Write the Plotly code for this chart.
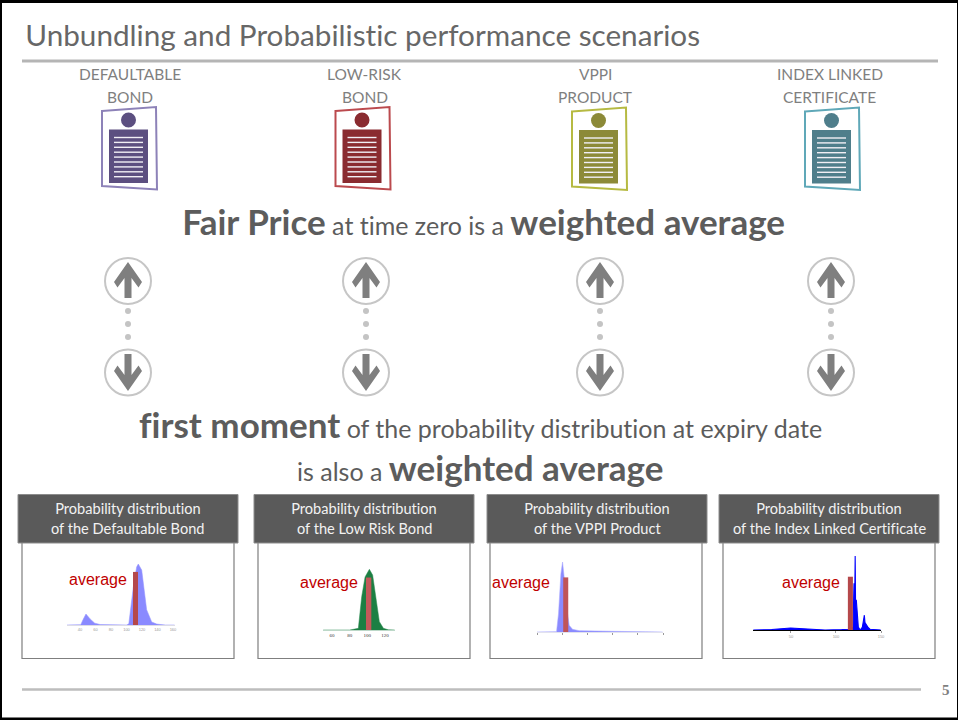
import plotly.graph_objects as go

W, H = 958, 720
TEXT = "#5c5c5c"
FONT = "Lato"

# ---------- data ----------
title = "Unbundling and Probabilistic performance scenarios"
product_lines = [["DEFAULTABLE", "BOND"], ["LOW-RISK", "BOND"], ["VPPI", "PRODUCT"], ["INDEX LINKED", "CERTIFICATE"]]
header_lines = [
    ["Probability distribution", "of the Defaultable Bond"],
    ["Probability distribution", "of the Low Risk Bond"],
    ["Probability distribution", "of the VPPI Product"],
    ["Probability distribution", "of the Index Linked Certificate"],
]
average_label = "average"

defaultable_x = [23, 38, 41, 44, 47.7, 53, 59, 66, 80, 100, 103, 104.5, 108.8, 113.1, 115.2, 119.6, 122.6, 126, 132.5, 139, 150, 162]
defaultable_y = [0, 0, 0.5, 9, 18, 10, 3, 0.7, 0, 0, 2, 20, 62, 95, 100, 90, 57, 25, 5, 1.5, 0, 0]
defaultable_avg, defaultable_avg_h = 111.6, 87

lowrisk_x = [50, 80, 89.8, 93.6, 97.4, 102.3, 106, 109.8, 113.6, 118.2, 123.9, 131]
lowrisk_y = [0, 0, 2.7, 54.6, 87, 99.5, 90, 49, 13.7, 2.7, 0.3, 0]
lowrisk_avg, lowrisk_avg_h = 101.5, 86

vppi_x = [50, 85, 88.8, 92.7, 97.4, 100.7, 104.6, 108.6, 113.9, 120.5, 133.7, 199.9, 299]
vppi_y = [0, 0, 0.5, 26, 83, 100, 74, 36, 9.5, 3.8, 1.9, 1, 0]
vppi_avg, vppi_avg_h = 107, 78

index_x = [8.1, 28.5, 49.6, 69.3, 87.8, 106.3, 113.7, 118.1, 118.9, 120, 120.7, 121.3, 121.7, 122.6, 123.7, 124.8,
           126.3, 127.8, 129.3, 130.4, 131.5, 132.2, 134.1, 135.9, 137.8, 141.5, 149.6]
index_y = [0, 0.7, 2.7, 1, 0, 0.5, 1, 3, 4, 63, 30, 100, 40, 40, 25, 4, 1, 1, 4, 12, 20, 10, 6, 3, 1, 0.5, 0]
index_avg, index_avg_h = 116, 72

defaultable_ticks = [40, 60, 80, 100, 120, 140, 160]
lowrisk_ticks = [60, 80, 100, 120]
vppi_ticks = [50, 100, 150, 200, 250, 300]
index_ticks = [50, 100, 150]

# ---------- slide furniture, in page pixels ----------
shapes, annotations = [], []

def px(x):
    return x / W

def py(y):
    return 1 - y / H

def rect(x0, y0, x1, y1, fill, line=None, lw=0, layer="below"):
    shapes.append(dict(type="rect", xref="paper", yref="paper", x0=px(x0), x1=px(x1), y0=py(y0), y1=py(y1),
                       fillcolor=fill, line=dict(color=line or fill, width=lw), layer=layer))

def hline(x0, x1, y, color, lw):
    shapes.append(dict(type="line", xref="paper", yref="paper", x0=px(x0), x1=px(x1), y0=py(y), y1=py(y),
                       line=dict(color=color, width=lw), layer="below"))

def poly(points, fill, line=None, lw=0):
    d = "M" + " L".join(f"{px(a):.5f},{py(b):.5f}" for a, b in points) + " Z"
    shapes.append(dict(type="path", xref="paper", yref="paper", path=d, fillcolor=fill,
                       line=dict(color=line or fill, width=lw), layer="below"))

def circle(cx, cy, r, fill, line=None, lw=0):
    shapes.append(dict(type="circle", xref="paper", yref="paper", x0=px(cx - r), x1=px(cx + r),
                       y0=py(cy - r), y1=py(cy + r), fillcolor=fill,
                       line=dict(color=line or fill, width=lw), layer="below"))

def text(x, y, s, size, color=TEXT, family=FONT, anchor="center"):
    annotations.append(dict(x=px(x), y=py(y), xref="paper", yref="paper", text=s, showarrow=False,
                            xanchor=anchor, yanchor="middle", align="center",
                            font=dict(family=family, size=size, color=color)))

# frame
rect(0, 0, W, 3, "#000000")
rect(0, 717.5, W, H, "#000000")
rect(0, 0, 2, H, "#000000")
rect(957, 0, W, H, "#000000")

# title
text(22.5, 34.5, title, 29.7, color="#676767", anchor="left")
hline(22, 938, 61, "#b5b5b5", 3)
hline(22, 921, 689.5, "#bdbdbd", 2.5)
text(946, 690, "<b>5</b>", 15, color="#7f7f7f", family="Liberation Serif")

# product labels and document icons
label_centres = [130, 364.5, 595, 829.5]
icon_dx = [0, 233.5, 470, 703]
icon_dy = [0, 0, 0.5, 0.5]
icon_dark = ["#5c4f80", "#8a2b30", "#8c8a38", "#4f7e8b"]
icon_edge = ["#8d82b8", "#bb4a4e", "#b6ba42", "#5fa8b8"]
for cx, lines in zip(label_centres, product_lines):
    text(cx, 74, lines[0], 15.5, color="#7f7f7f")
    text(cx, 97, lines[1], 15.5, color="#7f7f7f")
for dx, dy, dark, edge in zip(icon_dx, icon_dy, icon_dark, icon_edge):
    poly([(102 + dx, 111 + dy), (156 + dx, 107 + dy), (157 + dx, 189.5 + dy), (102 + dx, 186 + dy)], "#ffffff", edge, 2)
    circle(128.5 + dx, 120 + dy, 7.5, dark)
    rect(109 + dx, 129.5 + dy, 148 + dx, 183 + dy, dark)
    for k in range(9):
        y = 137.5 + 4.9 * k + dy
        hline(114 + dx, 143 + dx, y, "#f1eff5", 1.4)

# arrows
arrow_x = [128, 366, 600, 831]
for cx in arrow_x:
    circle(cx, 281, 23, "#ffffff", "#c6c6c6", 2)
    circle(cx, 372.5, 23, "#ffffff", "#c6c6c6", 2)
    poly([(cx, 262), (cx + 14, 282), (cx + 10.5, 287.5), (cx + 3.5, 278), (cx + 3.5, 298), (cx - 3.5, 298),
          (cx - 3.5, 278), (cx - 10.5, 287.5), (cx - 14, 282)], "#7f7f7f")
    poly([(cx, 391), (cx + 14, 371), (cx + 10.5, 365.5), (cx + 3.5, 375), (cx + 3.5, 354), (cx - 3.5, 354),
          (cx - 3.5, 375), (cx - 10.5, 365.5), (cx - 14, 371)], "#7f7f7f")
    for y in (311, 324, 337):
        circle(cx, y, 3, "#c4c4c4")

def big(s):
    return f'<b><span style="font-size:35px">{s}</span></b>'

text(483.5, 220.5, big("Fair Price") + " at time zero is a " + big("weighted average"), 25)
text(480, 423.5, big("first moment") + " of the probability distribution at expiry date", 25)
text(479.5, 467, "is also a " + big("weighted average"), 25)

# panel frames and headers
box_left = [22, 258, 490, 723]
head_left = [18, 254, 487, 719]
head_centre = [128, 364, 597, 829]
for bx, hx, hc, lines in zip(box_left, head_left, head_centre, header_lines):
    rect(bx, 520, bx + 212, 658.5, "#ffffff", "#7f7f7f", 1.2)
    rect(hx, 494.5, hx + 220, 543, "#5a5a5a", "#8c8c8c", 1)
    text(hc, 508.5, lines[0], 14.6, color="#f2f2f2")
    text(hc, 528.5, lines[1], 14.6, color="#f2f2f2")

# ---------- distribution panels, through real axes ----------
panels = [
    dict(x=defaultable_x, y=defaultable_y, avg=defaultable_avg, h=defaultable_avg_h, w=6.5, xr=[23.2, 162.6],
         px0=67, px1=175, base=625, top=564, fill="#8a8aff", edge="rgba(150,150,255,0.55)", lw=1,
         bar="#b5484b", ticks=defaultable_ticks, axis="#dcdce6", tfont=dict(size=4, color="#9a9a9a", family="Liberation Sans"),
         labels=True, tlen=0, label_x=98, label_y=579),
    dict(x=lowrisk_x, y=lowrisk_y, avg=lowrisk_avg, h=lowrisk_avg_h, w=6, xr=[49.8, 131.3],
         px0=323, px1=395, base=630, top=569, fill="#1c7f43", edge="#2b8a50", lw=0.5,
         bar="#c4585a", ticks=lowrisk_ticks, axis="#bcd8c8", tfont=dict(size=5, color="#333333", family="Liberation Serif"),
         labels=True, tlen=0, label_x=328.5, label_y=582),
    dict(x=vppi_x, y=vppi_y, avg=vppi_avg, h=vppi_avg_h, w=10, xr=[50, 300],
         px0=537, px1=663, base=632, top=562, fill="#8a8aff", edge="rgba(170,170,255,0.55)", lw=1,
         bar="#c05458", ticks=vppi_ticks, axis="#e2e2ee", tfont=dict(size=3, color="#999999", family="Liberation Sans"),
         labels=False, tlen=2, label_x=521, label_y=582),
    dict(x=index_x, y=index_y, avg=index_avg, h=index_avg_h, w=5.6, xr=[7.8, 150],
         px0=753, px1=881, base=630, top=556, fill="#0000ff", edge="#0000ff", lw=1.1,
         bar="#b5484b", ticks=index_ticks, axis="#000000", tfont=dict(size=4, color="#999999", family="Liberation Sans"),
         labels=True, tlen=2, label_x=811, label_y=582),
]

fig = go.Figure()
layout_axes = {}
for i, p in enumerate(panels):
    nx, ny = i + 1, i + 1
    ox, oy = i + 5, i + 5
    height = p["base"] - p["top"]
    dom_top = p["top"] - 10
    ymax = 100 * (p["base"] - dom_top) / height
    xdom = [px(p["px0"]), px(p["px1"])]
    ydom = [py(p["base"]), py(dom_top)]
    fig.add_trace(go.Scatter(x=p["x"], y=p["y"], xaxis=f"x{nx}", yaxis=f"y{ny}", mode="lines", fill="tozeroy",
                             fillcolor=p["fill"], line=dict(color=p["edge"], width=p["lw"]), showlegend=False,
                             hoverinfo="skip"))
    fig.add_trace(go.Bar(x=[p["avg"]], y=[p["h"]], width=[p["w"]], xaxis=f"x{ox}", yaxis=f"y{oy}",
                         marker=dict(color=p["bar"], line=dict(width=0)), showlegend=False, hoverinfo="skip"))
    layout_axes[f"xaxis{nx}"] = dict(domain=xdom, range=p["xr"], anchor=f"y{ny}", showgrid=False, zeroline=False,
                                     showline=True, linecolor=p["axis"], linewidth=1.2, tickmode="array",
                                     tickvals=p["ticks"], ticktext=[str(t) for t in p["ticks"]],
                                     showticklabels=p["labels"], tickfont=p["tfont"], ticks="outside" if p["tlen"] else "",
                                     ticklen=p["tlen"], tickcolor="#999999", tickwidth=1, automargin=False)
    layout_axes[f"yaxis{ny}"] = dict(domain=ydom, range=[0, ymax], anchor=f"x{nx}", visible=False)
    layout_axes[f"xaxis{ox}"] = dict(domain=xdom, range=p["xr"], anchor=f"y{oy}", visible=False, overlaying=f"x{nx}")
    layout_axes[f"yaxis{oy}"] = dict(domain=ydom, range=[0, ymax], anchor=f"x{ox}", visible=False, overlaying=f"y{ny}")
    text(p["label_x"], p["label_y"], average_label, 16, color="#c00000", family="Liberation Sans", anchor="center")

fig.update_layout(width=W, height=H, margin=dict(l=0, r=0, t=0, b=0, pad=0, autoexpand=False), paper_bgcolor="#ffffff",
                  plot_bgcolor="rgba(0,0,0,0)", showlegend=False, shapes=shapes, annotations=annotations, **layout_axes)
fig.write_html("out.html", config=dict(displayModeBar=False),
               post_script="document.body.style.margin='0';document.body.style.overflow='hidden';"
                           "var s=document.createElement('style');"
                           "s.textContent='text,tspan{font-variant-ligatures:none !important}';"
                           "document.head.appendChild(s);")
